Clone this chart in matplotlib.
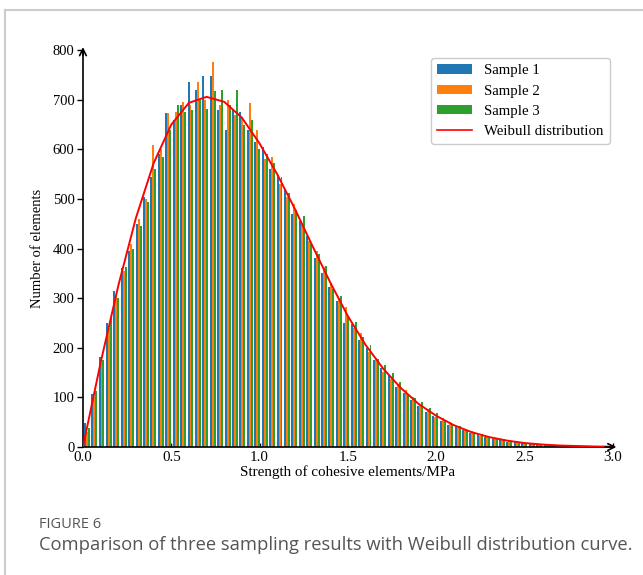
import matplotlib
matplotlib.use("Agg")
import matplotlib.pyplot as plt
import numpy as np
from matplotlib.patches import Patch
from matplotlib.lines import Line2D

plt.rcParams.update({
    "font.family": "serif",
    "font.serif": ["Liberation Serif", "DejaVu Serif"],
    "font.size": 10.5,
    "axes.linewidth": 1.2,
})

# histogram bins (MPa)
BIN_START = 0.0
BIN_WIDTH = 0.042

sample1 = [48, 107, 182, 250, 315, 360, 395, 450, 505, 545,
           590, 673, 659, 690, 735, 720, 748, 748, 680, 639,
           680, 675, 640, 615, 605, 560, 548, 520, 470, 455,
           425, 382, 350, 322, 295, 250, 248, 215, 200, 175,
           160, 145, 120, 108, 95, 82, 70, 62, 52, 45,
           40, 34, 28, 25, 20, 17, 14, 11, 10, 8,
           6, 5, 4, 3, 3, 2, 1, 1, 1, 0]
sample2 = [30, 100, 170, 240, 305, 355, 410, 460, 500, 608,
           600, 673, 675, 696, 690, 735, 700, 777, 690, 700,
           670, 665, 693, 640, 580, 585, 530, 505, 490, 448,
           415, 395, 362, 330, 300, 282, 240, 230, 192, 180,
           152, 138, 128, 115, 100, 85, 76, 60, 58, 50,
           38, 36, 32, 22, 22, 19, 15, 13, 8, 9,
           8, 6, 5, 4, 2, 2, 2, 1, 1, 1]
sample3 = [38, 112, 175, 262, 300, 362, 400, 445, 495, 560,
           585, 640, 690, 676, 680, 700, 682, 718, 720, 690,
           720, 650, 660, 600, 590, 572, 545, 512, 478, 465,
           410, 390, 365, 318, 305, 265, 252, 222, 205, 178,
           165, 150, 132, 106, 98, 90, 78, 68, 55, 47,
           42, 32, 30, 27, 19, 16, 16, 12, 11, 7,
           6, 5, 4, 3, 3, 2, 2, 2, 1, 1]

curve_x = [0.0, 0.1, 0.2, 0.3, 0.4, 0.5, 0.6, 0.7, 0.8, 0.9, 1.0,
           1.1, 1.2, 1.3, 1.4, 1.5, 1.6, 1.7, 1.8, 1.9, 2.0,
           2.1, 2.2, 2.3, 2.4, 2.5, 2.6, 2.7, 2.8, 2.9, 3.0]
curve_y = [0, 170, 325, 462, 572, 650, 694, 706, 696, 664, 612,
           550, 480, 405, 332, 264, 206, 158, 119, 87, 63,
           44, 30, 20, 13, 8, 5, 3, 2, 1, 0.6]

labels = ["Sample 1", "Sample 2", "Sample 3"]
colors = ["#1f77b4", "#ff7f0e", "#2ca02c"]

fig = plt.figure(figsize=(6.43, 5.75), dpi=100)
ax = fig.add_axes([0.129, 0.2226, 0.824, 0.690])

edges = BIN_START + BIN_WIDTH * np.arange(len(sample1))
dw = 0.8 * BIN_WIDTH / 3
for k, (vals, c) in enumerate(zip([sample1, sample2, sample3], colors)):
    ax.bar(edges + 0.1 * BIN_WIDTH + k * dw, vals, width=dw, align="edge",
           color=c, linewidth=0, zorder=2)

ax.plot(curve_x, curve_y, color="red", lw=1.4, zorder=3)

ax.set_xlim(0, 3.0)
ax.set_ylim(0, 800)
ax.set_xticks([0.0, 0.5, 1.0, 1.5, 2.0, 2.5, 3.0])
ax.set_yticks(range(0, 801, 100))
ax.set_xticklabels(["0.0", "0.5", "1.0", "1.5", "2.0", "2.5", "3.0"])
ax.tick_params(axis="x", direction="in", length=3, width=1, pad=3, labelsize=10.8)
ax.tick_params(axis="y", direction="out", length=4, width=1, pad=2, labelsize=10.5)
for sp in ["top", "right"]:
    ax.spines[sp].set_visible(False)

# arrow heads on the axes
ax.annotate("", xy=(1.012, 0), xycoords="axes fraction", xytext=(0.98, 0),
            arrowprops=dict(arrowstyle="->", lw=1.2, color="black",
                            mutation_scale=12), annotation_clip=False)
ax.annotate("", xy=(0, 1.015), xycoords="axes fraction", xytext=(0, 0.98),
            arrowprops=dict(arrowstyle="->", lw=1.2, color="black",
                            mutation_scale=12), annotation_clip=False)

ax.set_xlabel("Strength of cohesive elements/MPa", fontsize=10.9, labelpad=1)
ax.set_ylabel("Number of elements", fontsize=10.5, labelpad=6)

handles = [Patch(facecolor=c, label=l) for c, l in zip(colors, labels)]
handles.append(Line2D([0], [0], color="red", lw=1.2, label="Weibull distribution"))
ax.legend(handles=handles, loc="upper right", bbox_to_anchor=(0.994, 0.98),
          borderaxespad=0, fontsize=10.7, handlelength=2.4, handleheight=0.6,
          edgecolor="#cccccc", framealpha=1.0)

# page frame and caption
fig.add_artist(Line2D([0.008, 1.0], [0.982, 0.982], color="#cccccc", lw=1.5))
fig.add_artist(Line2D([0.008, 0.008], [0.0, 0.982], color="#cccccc", lw=1.5))
fig.text(0.061, 0.088, "FIGURE 6", fontsize=10.5, color="#555555",
         family="Open Sans", va="center")
fig.text(0.061, 0.053, "Comparison of three sampling results with Weibull distribution curve.",
         fontsize=13.2, color="#555555", family="Open Sans", va="center")

fig.savefig("out.png", dpi=100)
